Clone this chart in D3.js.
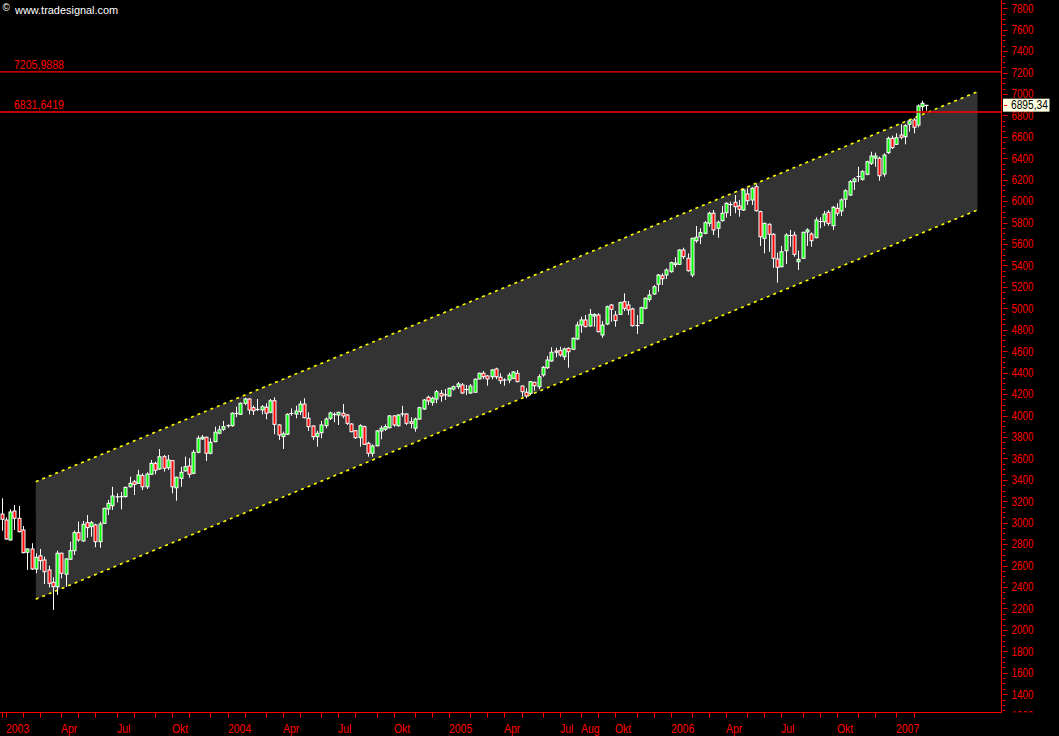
<!DOCTYPE html>
<html><head><meta charset="utf-8">
<script src="https://cdn.jsdelivr.net/npm/d3@7"></script>
<style>
html,body{margin:0;padding:0;background:#000;}
svg{display:block;}
text{font-family:"Liberation Sans",Arial,sans-serif;}
</style></head><body>
<svg id="chart" width="1059" height="736"></svg>
<script>
// ---------- data ----------
const firstWeekEnd = "2002-12-29";   // weekly bars, dated by week-ending Sunday
const open  = [3081,3025,2839,3109,3041,2932,2724,2755,2568,2690,2652,2559,2444,2403,2715,2519,2659,2739,2907,2830,3000,2963,2979,2823,2994,3128,3159,3240,3245,3243,3335,3382,3367,3439,3335,3452,3554,3501,3616,3513,3579,3326,3414,3483,3529,3461,3657,3781,3797,3648,3756,3835,3872,3910,3905,4024,4011,4114,4154,4073,4061,4052,4077,4030,4138,3912,3803,3825,4024,4014,4036,4107,3974,3902,3803,3840,3905,3974,4014,4005,4021,4005,3921,3858,3793,3896,3741,3648,3718,3856,3872,3886,3996,3905,4019,4014,3942,3881,3967,4061,4170,4123,4154,4207,4198,4182,4247,4269,4285,4247,4210,4217,4341,4394,4369,4362,4434,4357,4327,4331,4347,4394,4275,4217,4207,4310,4269,4378,4446,4509,4602,4605,4549,4627,4618,4714,4844,4891,4835,4928,4938,4751,4854,5031,4938,4944,5062,5031,4994,4835,4860,5000,5084,5134,5224,5304,5311,5342,5409,5411,5544,5467,5311,5631,5668,5700,5793,5887,5747,5818,5892,5973,5989,5955,5917,6067,6011,6135,5902,5653,5784,5691,5460,5388,5538,5675,5684,5435,5467,5712,5693,5659,5805,5808,5896,5771,5933,5908,6017,6057,6181,6225,6204,6250,6353,6402,6400,6253,6452,6586,6530,6617,6601,6717,6757,6710,6881,6890];
const high  = [3228,3050,3125,3165,3156,2969,2761,2808,2715,2755,2683,2599,2491,2739,2720,2668,2823,2926,3010,3016,3072,3016,2990,3010,3140,3212,3335,3274,3287,3335,3429,3398,3492,3461,3470,3585,3569,3688,3632,3632,3585,3429,3523,3616,3601,3679,3812,3818,3803,3788,3896,3906,3949,3918,4030,4082,4123,4166,4161,4092,4154,4098,4114,4154,4170,3920,3849,4021,4067,4092,4136,4161,4030,3910,3858,3949,3983,4036,4030,4036,4107,4014,3927,3865,3918,3905,3756,3732,3865,3905,3918,4005,4005,4011,4089,4021,3983,3980,4082,4154,4185,4176,4238,4238,4247,4260,4278,4313,4303,4285,4294,4347,4400,4415,4378,4434,4446,4394,4347,4400,4415,4425,4280,4254,4322,4316,4385,4462,4555,4636,4633,4642,4633,4636,4730,4875,4922,4938,4994,4954,4954,4882,5025,5040,4975,5062,5140,5068,5006,4938,5015,5103,5171,5218,5320,5327,5373,5435,5476,5551,5566,5513,5659,5768,5747,5815,5902,5917,5818,5955,5989,5995,6057,6011,6113,6120,6129,6157,5911,5799,5793,5700,5519,5582,5700,5731,5715,5538,5715,5747,5709,5849,5849,5908,5917,5955,5980,6026,6111,6197,6222,6321,6291,6377,6461,6452,6415,6446,6601,6611,6633,6717,6717,6757,6773,6903,6937,6897];
const low   = [2926,2839,2832,2932,2910,2715,2559,2559,2528,2559,2428,2397,2186,2326,2481,2403,2652,2699,2823,2823,2860,2870,2771,2767,2990,3072,3119,3190,3125,3235,3330,3258,3361,3305,3315,3445,3452,3492,3476,3492,3274,3205,3335,3476,3420,3452,3648,3772,3576,3638,3750,3825,3856,3886,3895,3984,4005,4098,4011,4005,4042,4011,3965,4021,3825,3772,3688,3818,3998,3974,4005,3974,3856,3772,3709,3788,3881,3958,3937,3912,3974,3912,3844,3781,3709,3725,3616,3616,3710,3778,3856,3881,3896,3896,3989,3912,3881,3849,3958,4052,4098,4092,4114,4129,4145,4176,4232,4247,4201,4191,4201,4213,4338,4341,4278,4338,4338,4294,4278,4301,4338,4310,4176,4161,4191,4232,4245,4362,4434,4502,4543,4549,4518,4446,4611,4705,4773,4823,4829,4829,4776,4726,4844,4875,4829,4938,4975,4938,4829,4761,4854,4991,5062,5124,5155,5218,5274,5332,5383,5404,5460,5342,5290,5612,5600,5691,5762,5684,5659,5808,5846,5861,5887,5855,5908,5964,5964,5902,5581,5513,5528,5379,5239,5383,5414,5575,5482,5358,5460,5582,5575,5653,5747,5768,5771,5731,5861,5861,5939,6048,6104,6181,6191,6241,6337,6321,6191,6228,6440,6486,6524,6577,6530,6648,6633,6689,6844,6844];
const close = [3032,2848,3100,3041,2916,2720,2755,2568,2677,2646,2543,2435,2403,2715,2528,2662,2739,2907,2839,2985,2954,3000,2823,2988,3134,3181,3249,3243,3240,3330,3367,3358,3445,3335,3454,3554,3489,3616,3508,3585,3335,3424,3470,3523,3452,3657,3788,3797,3648,3750,3844,3866,3896,3901,4021,4014,4114,4154,4052,4045,4052,4082,4021,4138,3918,3818,3828,4011,4014,4042,4107,3980,3896,3803,3834,3912,3967,4024,4005,4030,3996,3927,3849,3793,3905,3732,3648,3716,3856,3881,3896,3996,3912,4005,4010,3927,3927,3967,4073,4145,4136,4161,4222,4182,4189,4254,4269,4294,4210,4238,4275,4338,4394,4362,4341,4425,4362,4325,4336,4378,4406,4316,4222,4182,4316,4278,4362,4450,4518,4590,4590,4565,4621,4595,4720,4844,4891,4829,4944,4942,4782,4844,5015,4991,4885,5053,5000,4985,4838,4844,5006,5094,5124,5202,5311,5276,5358,5426,5423,5544,5482,5351,5653,5663,5706,5799,5887,5731,5803,5887,5980,5964,5948,5924,6104,6004,6120,5911,5668,5793,5691,5467,5383,5528,5684,5684,5504,5457,5709,5731,5631,5824,5815,5880,5793,5943,5887,6011,6097,6181,6207,6235,6275,6368,6421,6421,6237,6430,6586,6499,6592,6596,6704,6748,6689,6888,6913,6895.34];

const yMajorTicks = [1200,1400,1600,1800,2000,2200,2400,2600,2800,3000,3200,3400,3600,3800,4000,4200,4400,4600,4800,5000,5200,5400,5600,5800,6000,6200,6400,6600,6800,7000,7200,7400,7600,7800];
const yMinorStep = 50;
const monthNames = ["Jan","Feb","Mär","Apr","Mai","Jun","Jul","Aug","Sep","Okt","Nov","Dez"];
const labelMonths = ["2003-01","2003-04","2003-07","2003-10","2004-01","2004-04","2004-07","2004-10","2005-01","2005-04","2005-07","2005-08","2005-10","2006-01","2006-04","2006-07","2006-10","2007-01"];
const hLineValues = [7205.9888, 6831.6419];
const lastPrice = 6895.34;
const channelBars  = [8, 229];
const channelUpper = [3383, 7021];
const channelLower = [2286, 5917];
const copyrightText = "www.tradesignal.com";

// ---------- setup ----------
const svg = d3.select("#chart");
const W = 1059, H = 736;
const axisX = 1001.5, axisY = 712.5;
const n = close.length;
const x = d3.scaleLinear().domain([0, n - 1]).range([1.7, 926.3]);
const y = d3.scaleLinear().domain([1400, 7800]).range([694.2, 8.2]);
const de = d3.formatLocale({decimal: ",", thousands: "", grouping: [3], currency: ["", "€"]});
const fmt2 = de.format(".2f"), fmt4 = de.format(".4f");
const start = d3.timeParse("%Y-%m-%d")(firstWeekEnd);
const dates = d3.range(n).map(i => d3.timeWeek.offset(start, i));

// condense a text element horizontally
function squeeze(sel, k) {
  sel.each(function () {
    const w = this.getComputedTextLength();
    d3.select(this).attr("textLength", w * k).attr("lengthAdjust", "spacingAndGlyphs");
  });
  return sel;
}

svg.append("rect").attr("width", W).attr("height", H).attr("fill", "#000");

const defs = svg.append("defs");
defs.append("clipPath").attr("id", "plotclip")
  .append("rect").attr("x", 0).attr("y", 0).attr("width", axisX).attr("height", axisY);
defs.append("clipPath").attr("id", "axisclip")
  .append("rect").attr("x", axisX).attr("y", 0).attr("width", W - axisX).attr("height", axisY);

const plot = svg.append("g").attr("clip-path", "url(#plotclip)");

// channel
const pU = [[x(channelBars[0]), y(channelUpper[0])], [x(channelBars[1]), y(channelUpper[1])]];
const pL = [[x(channelBars[0]), y(channelLower[0])], [x(channelBars[1]), y(channelLower[1])]];
plot.append("path")
  .attr("d", d3.line()([pU[0], pU[1], pL[1], pL[0]]) + "Z")
  .attr("fill", "#333333");
[pU, pL].forEach(p => plot.append("path").attr("d", d3.line()(p))
  .attr("stroke", "#ffff00").attr("stroke-width", 1.6).attr("stroke-dasharray", "3,4").attr("fill", "none"));

// candles
const bars = plot.append("g");
d3.range(n).forEach(i => {
  const cx = Math.round(x(i)) + 0.5;
  const g = bars.append("g");
  g.append("line").attr("x1", cx).attr("x2", cx)
    .attr("y1", y(high[i])).attr("y2", y(low[i]))
    .attr("stroke", "#fff").attr("stroke-width", 1);
  const top = y(Math.max(open[i], close[i])), bot = y(Math.min(open[i], close[i]));
  if (bot - top < 1.2) {
    g.append("line").attr("x1", cx - 2).attr("x2", cx + 2)
      .attr("y1", (top + bot) / 2).attr("y2", (top + bot) / 2)
      .attr("stroke", "#fff").attr("stroke-width", 1.2);
  } else {
    g.append("rect").attr("x", cx - 1.5).attr("width", 3)
      .attr("y", top).attr("height", bot - top)
      .attr("fill", close[i] >= open[i] ? "#00ff00" : "#ff0000")
      .attr("stroke", "#fff").attr("stroke-width", 1);
  }
});

// horizontal lines
hLineValues.forEach(v => {
  plot.append("line").attr("x1", 0).attr("x2", axisX).attr("y1", y(v)).attr("y2", y(v))
    .attr("stroke", "#ff0000").attr("stroke-width", 1.4);
  squeeze(svg.append("text").attr("x", 14).attr("y", y(v) - 2.5).text(fmt4(v))
    .attr("fill", "#ff0000").attr("font-size", 12), 0.88);
});

// axes lines
svg.append("line").attr("x1", axisX).attr("x2", axisX).attr("y1", 0).attr("y2", axisY)
  .attr("stroke", "#ff0000").attr("stroke-width", 1);
svg.append("line").attr("x1", 0).attr("x2", axisX).attr("y1", axisY).attr("y2", axisY)
  .attr("stroke", "#ff0000").attr("stroke-width", 1);

// y axis
const yAxisG = svg.append("g").attr("clip-path", "url(#axisclip)");
const yMinor = d3.range(yMajorTicks[0], 8000, yMinorStep).filter(v => v % 200 !== 0);
yMinor.forEach(v => yAxisG.append("line").attr("x1", 1003).attr("x2", 1005.5)
  .attr("y1", Math.round(y(v)) + 0.5).attr("y2", Math.round(y(v)) + 0.5).attr("stroke", "#ff0000"));
yMajorTicks.forEach(v => {
  yAxisG.append("line").attr("x1", 1003).attr("x2", 1007.5)
    .attr("y1", Math.round(y(v)) + 0.5).attr("y2", Math.round(y(v)) + 0.5).attr("stroke", "#ff0000");
  squeeze(yAxisG.append("text").attr("x", 1011.5).attr("y", y(v) + 4.3).text(v)
    .attr("fill", "#ff0000").attr("font-size", 12), 0.82);
});

// x axis: tick at first bar of every month
const monthKey = d3.timeFormat("%Y-%m");
const tickIdx = d3.range(n).filter(i => i === 0 || monthKey(dates[i]) !== monthKey(dates[i - 1]));
tickIdx.forEach(i => {
  const tx = Math.round(x(i)) + 0.5;
  svg.append("line").attr("x1", tx).attr("x2", tx).attr("y1", 713).attr("y2", 717.5)
    .attr("stroke", "#ff0000");
  const key = monthKey(dates[i]);
  if (labelMonths.includes(key)) {
    const m = dates[i].getMonth();
    const label = m === 0 ? String(dates[i].getFullYear()) : monthNames[m];
    squeeze(svg.append("text").attr("x", tx - 0.5).attr("y", 732.5).text(label)
      .attr("fill", "#ff0000").attr("font-size", 12), 0.87);
  }
});

// last price box
const ly = y(lastPrice);
svg.append("rect").attr("x", 1003).attr("y", ly - 6.5).attr("width", 46.5).attr("height", 13)
  .attr("fill", "#ffffe1");
svg.append("line").attr("x1", 1004).attr("x2", 1007).attr("y1", Math.round(ly) + 0.5).attr("y2", Math.round(ly) + 0.5)
  .attr("stroke", "#ff0000");
squeeze(svg.append("text").attr("x", 1011).attr("y", ly + 4.3).text(fmt2(lastPrice))
  .attr("fill", "#000").attr("font-size", 12), 0.85);

// copyright
svg.append("text").attr("x", 2.5).attr("y", 11).text("©").attr("fill", "#fff").attr("font-size", 10);
squeeze(svg.append("text").attr("x", 15).attr("y", 14).text(copyrightText)
  .attr("fill", "#fff").attr("font-size", 11.5), 0.95);
</script>
</body></html>
